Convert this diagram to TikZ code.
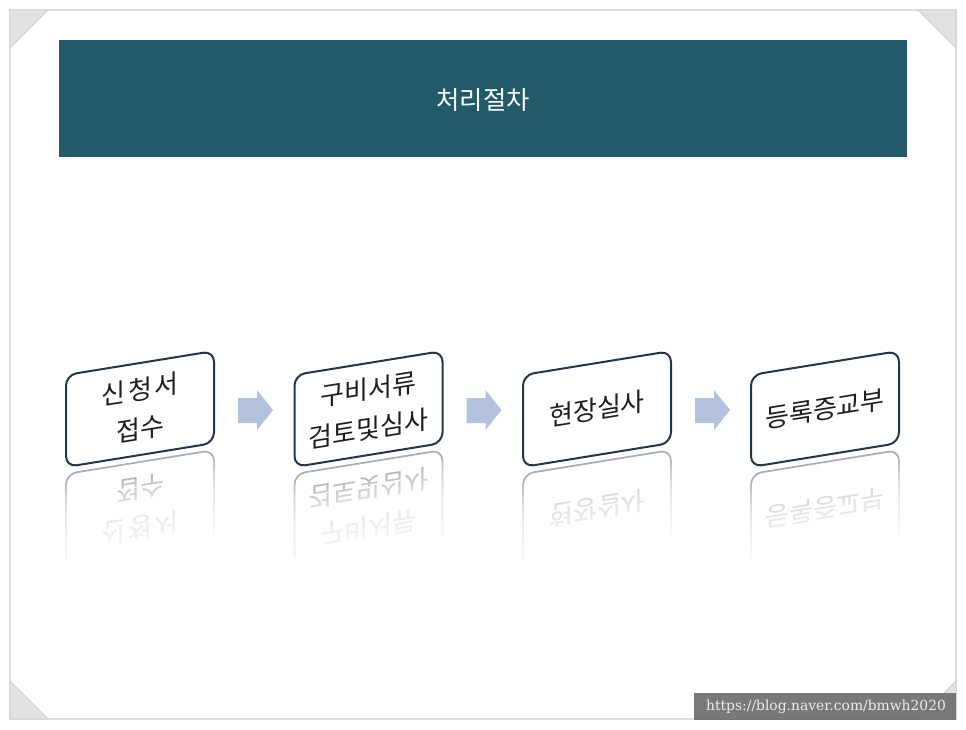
\documentclass[tikz,border=0pt]{standalone}
\usepackage{fontspec}
\newfontfamily\kr{Noto Sans CJK KR}
\newfontfamily\krwide[LetterSpace=10]{Noto Sans CJK KR}
\newfontfamily\wmfont{DejaVu Serif}
\definecolor{headc}{HTML}{215A69}
\definecolor{boxc}{HTML}{26364A}
\definecolor{reflc}{HTML}{A8AFB8}
\definecolor{refltxt}{HTML}{9A9A9A}
\definecolor{txtc}{HTML}{1E1E1E}
\definecolor{arrowc}{HTML}{B4C3DD}
\definecolor{framec}{HTML}{DCDCDC}
\definecolor{trifill}{HTML}{E2E2E2}
\definecolor{triedge}{HTML}{CFCFCF}
\definecolor{wmc}{HTML}{6E6E6E}
\begin{document}
\begin{tikzpicture}[x=0.75pt,y=-0.75pt,
  stepbox/.style={draw=boxc, fill=white, line width=1.5pt, rounded corners=8pt,
    minimum width=111pt, minimum height=69pt, inner sep=0pt, transform shape,
    font=\kr\fontsize{19.5}{29.5}\selectfont, text=txtc, align=center},
  reflbox/.style={draw=reflc, line width=1.3pt, rounded corners=8pt,
    minimum width=111pt, minimum height=69pt, inner sep=0pt, transform shape,
    yscale=-1, font=\kr\fontsize{19.5}{29.5}\selectfont, text=refltxt, align=center},
  blockarrow/.style={fill=arrowc},
  fadelayer/.style={fill=white, opacity=0.1},
  tri/.style={fill=trifill, draw=triedge, line width=0.6pt}]
\useasboundingbox (0,0) rectangle (966,730);
\fill[white] (0,0) rectangle (966,730);
% frame
\draw[framec, line width=1.2pt] (10,10) rectangle (956,719);
\filldraw[tri] (10,10) -- (48,10) -- (10,48) -- cycle;
\filldraw[tri] (918,10) -- (956,10) -- (956,48) -- cycle;
\filldraw[tri] (10,681) -- (10,719) -- (48,719) -- cycle;
\filldraw[tri] (956,681) -- (956,719) -- (918,719) -- cycle;
% header
\fill[headc] (59,40) rectangle (907,157);
\node[text=white, font=\kr\fontsize{19}{22}\selectfont] (title) at (483,100) {처리절차};
% boxes
\foreach \cx/\nm/\txt in {140/b1/{{\krwide 신청서}\\접수}, 368.5/b2/{구비서류\\검토및심사}, 597/b3/{현장실사}, 825/b4/{등록증교부}}{
  \begin{scope}[shift={(\cx,409)}, yslant=0.162]
    \node[reflbox] (\nm r) at (0,99) {\txt};
    \foreach \i in {0,...,27}{
      \fill[fadelayer] (-82,{60+3*\i}) rectangle (82,152);
    }
    \fill[white] (-82,138) rectangle (82,152);
    \node[stepbox] (\nm) at (0,0) {\txt};
  \end{scope}
}
% arrows
\foreach \ax/\nm in {238/a1, 466.5/a2, 695/a3}{
  \begin{scope}[shift={(\ax,0)}]
    \coordinate (\nm) at (0,410);
    \fill[blockarrow] (\nm) ++(0,-12) -- ++(19,0) -- ++(0,-8) -- (35,410) -- (19,430) -- (19,423) -- (0,423) -- cycle;
  \end{scope}
}
% watermark
\fill[wmc, opacity=0.92] (694,693) rectangle (956,720);
\node[text=white!92!black, font=\wmfont\fontsize{10.4}{13}\selectfont] (wm) at (826,706.5) {https://blog.naver.com/bmwh2020};
\end{tikzpicture}
\end{document}
